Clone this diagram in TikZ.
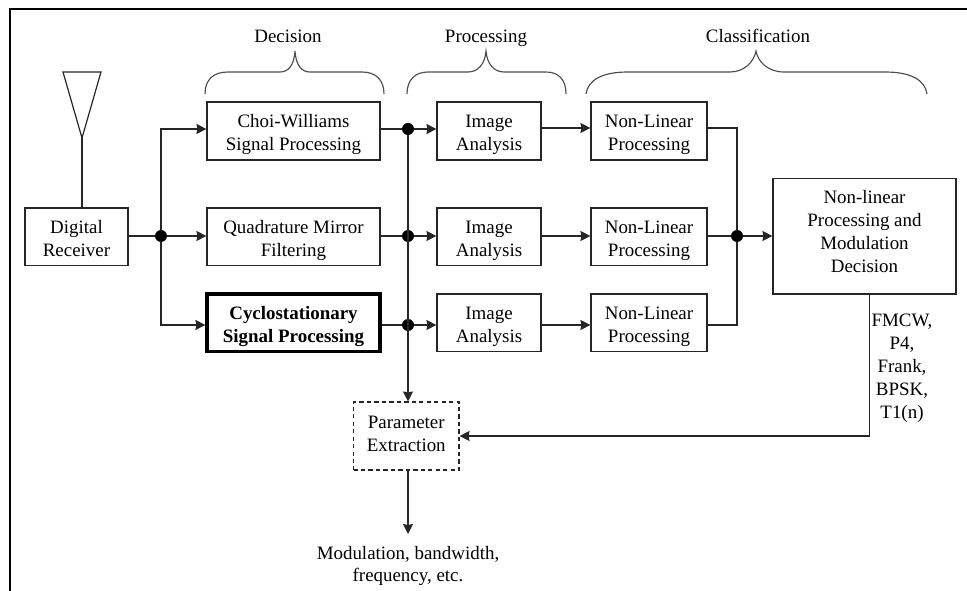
\documentclass[tikz,border=0pt]{standalone}
\usepackage{fontspec}
\setmainfont{Liberation Serif}
\usetikzlibrary{arrows.meta}
\tikzset{
  x=0.75pt,y=-0.75pt,
  every node/.style={font=\fontsize{14.2}{17.2}\selectfont,align=center,inner sep=0pt},
  box/.style={draw=black!85,line width=0.85pt,fill=white},
  heavybox/.style={draw=black,line width=2.4pt,fill=white},
  dashbox/.style={draw=black!85,line width=0.8pt,dash pattern=on 3.2pt off 2.4pt,fill=white},
  wire/.style={draw=black!85,line width=0.9pt},
  arr/.style={wire,-{Stealth[inset=0.8pt,length=7.5pt,width=7.5pt]}},
  dot/.style={circle,fill=black,minimum size=9pt},
  bracket/.style={draw=black!70,line width=0.85pt},
  frameline/.style={draw=black,line width=1.7pt},
  headlabel/.style={text height=10pt,text depth=3pt},
}
\newcommand{\boxat}[7][box]{\node[#1,minimum width=#5*0.75pt,minimum height=#6*0.75pt] (#2) at (#3+0.5*#5,#4+0.5*#6) {#7};}
% text with fixed padding above the first and below the last line
\newcommand{\pad}[4]{\rule{0pt}{#1pt}#3\\#4\rule[-#2pt]{0pt}{1pt}}
\begin{document}
\begin{tikzpicture}
\useasboundingbox (0,0) rectangle (967,591);
\fill[white] (0,0) rectangle (967,591);
\draw[frameline] (967,9) -- (10,9) -- (10,591);
\boxat{rx}{25}{208}{103}{57.5}{\pad{16}{4}{Digital}{Receiver}}
\boxat{choi}{207}{102}{173}{58}{\pad{16}{4}{Choi-Williams}{Signal Processing}}
\boxat{qmf}{207}{208}{173}{57.5}{\pad{16}{4}{Quadrature Mirror}{Filtering}}
\boxat[heavybox]{cyc}{207}{294}{173}{57.5}{\pad{16}{4}{\bfseries Cyclostationary}{\bfseries Signal Processing}}
\boxat{ia1}{437}{102}{104}{58}{\pad{16}{4}{Image}{Analysis}}
\boxat{ia2}{437}{208}{104}{57.5}{\pad{16}{4}{Image}{Analysis}}
\boxat{ia3}{437}{294}{104}{57.5}{\pad{16}{4}{Image}{Analysis}}
\boxat{nl1}{591}{102}{116}{58}{\pad{16}{4}{Non-Linear}{Processing}}
\boxat{nl2}{591}{208}{116}{57.5}{\pad{16}{4}{Non-Linear}{Processing}}
\boxat{nl3}{591}{294}{116}{57.5}{\pad{16}{4}{Non-Linear}{Processing}}
\boxat{dec}{773}{178.5}{183}{115.5}{\pad{14.2}{12}{Non-linear\\Processing and\\Modulation}{Decision}}
\boxat[dashbox]{par}{353.5}{402}{105.5}{68}{\pad{13.6}{8}{Parameter}{Extraction}}
% free labels
\node[headlabel] (lDec) at (288,38) {Decision};
\node[headlabel] (lPro) at (486,38) {Processing};
\node[headlabel] (lCla) at (758,38) {Classification};
\node (out) at (408,566) {Modulation, bandwidth,\\frequency, etc.};
\node (mods) at (902,368.5) {FMCW,\\P4,\\Frank,\\BPSK,\\T1(n)};
% junctions
\node[dot] (j0) at (161,236) {};
\node[dot] (ja) at (408,129) {};
\node[dot] (jb) at (408,236) {};
\node[dot] (jc) at (408,325) {};
\node[dot] (jd) at (737,236) {};
\coordinate (t1) at (591,128);
\coordinate (tip) at (408,534);
\coordinate (ant) at (82,138);
\coordinate (dn) at (869.5,436);
% antenna
\draw[wire,line join=miter] (63,72) -- (101,72) -- (ant) -- cycle;
\draw[wire] (ant) -- (ant |- rx.north);
% connectors
\draw[wire] (rx.east |- j0) -- (j0);
\draw[arr] (j0) |- (choi.west |- ja);
\draw[arr] (j0) -- (qmf.west |- j0);
\draw[arr] (j0) |- (cyc.west |- jc);
\draw[wire] (choi.east |- ja) -- (ja);
\draw[wire] (qmf.east |- jb) -- (jb);
\draw[wire] (cyc.east |- jc) -- (jc);
\draw[arr] (ja) -- (ia1.west |- ja);
\draw[arr] (jb) -- (ia2.west |- jb);
\draw[arr] (jc) -- (ia3.west |- jc);
\draw[arr] (ja) -- (par.north -| ja);
\draw[arr] (ia1.east |- t1) -- (nl1.west |- t1);
\draw[arr] (ia2.east |- jd) -- (nl2.west |- jd);
\draw[arr] (ia3.east |- jc) -- (nl3.west |- jc);
\draw[wire] (nl1.east |- t1) -| (jd);
\draw[wire] (nl2.east |- jd) -- (jd);
\draw[wire] (nl3.east |- jc) -| (jd);
\draw[arr] (jd) -- (dec.west |- jd);
\draw[wire] (dec.south -| dn) -- (dn);
\draw[arr] (dn) -- (par.east |- dn);
\draw[arr] (par.south -| tip) -- (tip);
% braces
\draw[bracket] (205,94) .. controls (205,80) and (213,72) .. (228,72) -- (280,72) .. controls (288,72) and (294,66) .. (295,51) .. controls (296,66) and (302,72) .. (310,72) -- (362,72) .. controls (376,72) and (384,80) .. (384,94);
\draw[bracket] (407,94) .. controls (407,80) and (415,72) .. (428,72) -- (468,72) .. controls (478,72) and (485,64) .. (486,51) .. controls (487,64) and (494,72) .. (504,72) -- (546,72) .. controls (559,72) and (566,80) .. (566,94);
\draw[bracket] (586,94) .. controls (588,80) and (602,72) .. (628,72) -- (730,72) .. controls (744,72) and (754,62) .. (756,51) .. controls (758,62) and (768,72) .. (784,72) -- (885,72) .. controls (911,72) and (925,80) .. (927,94);
\end{tikzpicture}
\end{document}
